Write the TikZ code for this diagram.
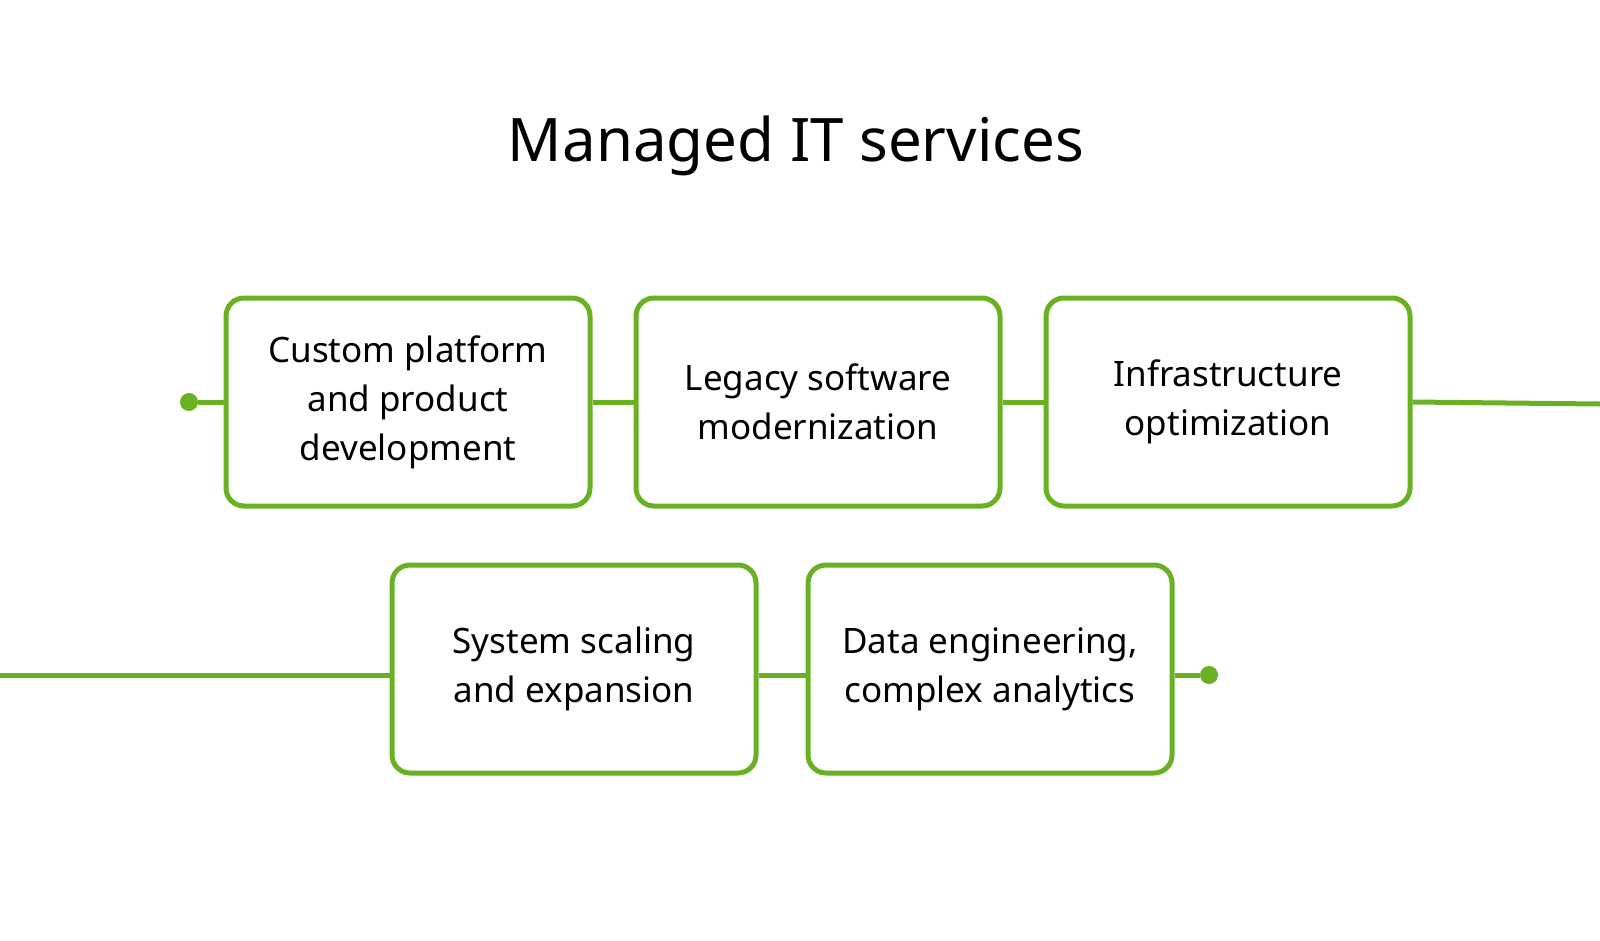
\documentclass[tikz,border=0pt]{standalone}
\usepackage{fontspec}
\setmainfont{Noto Sans}
\usetikzlibrary{positioning}
\definecolor{leaf}{HTML}{6AB023}
\tikzset{
  service/.style={draw=leaf, line width=5pt, rounded corners=18pt, minimum width=364pt,
    minimum height=208pt, align=center, font=\fontsize{35}{49}\selectfont, inner sep=0pt},
  link/.style={draw=leaf, line width=5pt},
  dot/.style={circle, fill=leaf, minimum size=18pt, inner sep=0pt}
}
\begin{document}
\begin{tikzpicture}[x=1pt,y=-1pt]
    \useasboundingbox (0,0) rectangle (1600,940);

    % Title
    \node (title) at (796,146) {\fontsize{60}{70}\selectfont\bfseries Managed IT services};

    % First row
    \node[service] (custom) at (408,402) {Custom platform\\and product\\development};
    \node[service] (legacy) at (818,402) {Legacy software\\modernization};
    \node[service] (infra) at (1228,402) {Infrastructure\\optimization};

    % Second row
    \node[service] (scale) at (574,669) {System scaling\\and expansion};
    \node[service] (data) at (990,669) {Data engineering,\\complex analytics};

    % Connectors
    \node[dot] (start) at (189,402) {};
    \coordinate (rowend) at (1600,404);
    \coordinate (rowstart) at (0,675);
    \node[dot] (finish) at (1209,675) {};
    \draw[link] (start) -- (custom.west);
    \draw[link] (custom) -- (legacy);
    \draw[link] (legacy) -- (infra);
    \draw[link] (infra.east) -- (rowend);
    \draw[link] (rowstart) -- (scale.west |- rowstart);
    \draw[link] (scale.east |- rowstart) -- (data.west |- rowstart);
    \draw[link] (data.east |- finish) -- (finish);
\end{tikzpicture}
\end{document}
